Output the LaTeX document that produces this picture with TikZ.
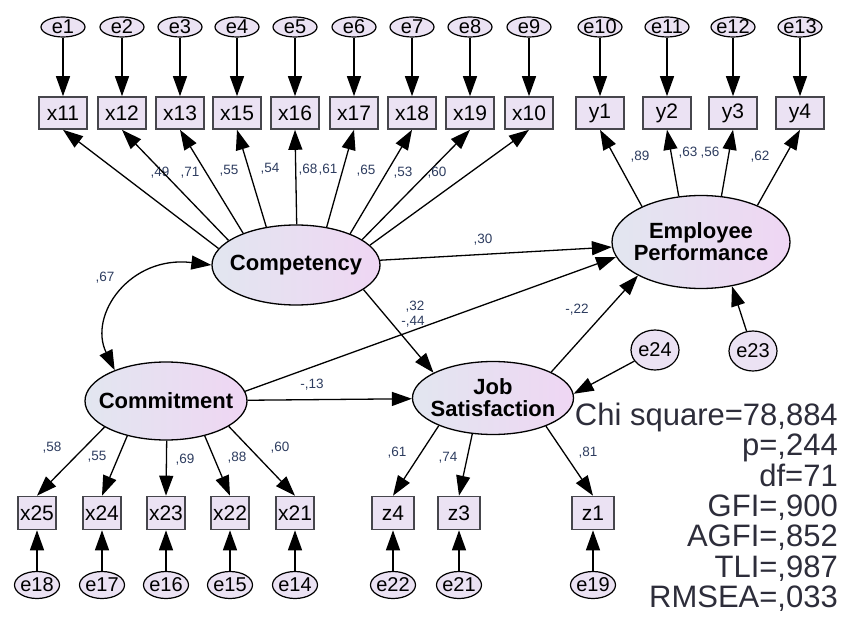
\documentclass[tikz,border=0pt]{standalone}
\usepackage{fontspec}
\setmainfont{Liberation Sans}
\usepackage{tikz}
\usetikzlibrary{arrows.meta}
\usetikzlibrary{shapes.geometric}
\definecolor{latleft}{RGB}{226,230,240}
\definecolor{latright}{RGB}{239,214,243}
\definecolor{obsfill}{RGB}{235,226,243}
\definecolor{obsline}{RGB}{70,70,76}
\definecolor{numblue}{RGB}{45,60,95}
\definecolor{stattext}{RGB}{45,45,58}
\tikzstyle{latent} = [draw, ellipse, line width=1.3pt, left color=latleft, right color=latright, inner xsep=-25pt, inner ysep=-8pt, align=center, font=\fontsize{22}{22}\selectfont\bfseries]
\tikzstyle{obs} = [draw=obsline, rectangle, line width=1.6pt, fill=obsfill, minimum width=48pt, minimum height=32pt, inner sep=0pt, font=\fontsize{21}{21}\selectfont]
\tikzstyle{obs low} = [obs, minimum width=38pt, minimum height=33pt]
\tikzstyle{obs z} = [obs, minimum width=42pt, minimum height=33pt]
\tikzstyle{err} = [draw, ellipse, line width=1.2pt, fill=obsfill, minimum width=44pt, minimum height=20pt, inner xsep=-3pt, inner ysep=-1pt, font=\fontsize{20}{20}\selectfont]
\tikzstyle{err low} = [err, minimum width=45pt, minimum height=27pt]
\tikzstyle{err side} = [err, minimum width=48pt, minimum height=40pt]
\tikzstyle{load} = [-{Triangle[length=20pt,width=14pt]}, line width=1.3pt]
\tikzstyle{cov} = [{Triangle[length=20pt,width=14pt]}-{Triangle[length=20pt,width=14pt]}, line width=1.3pt]
\tikzstyle{num} = [font=\fontsize{13.5}{13.5}\selectfont, text=numblue, inner sep=0pt]

\begin{document}
\begin{tikzpicture}[x=1pt,y=-1pt]
	\useasboundingbox (0,0) rectangle (842,617);

	\node (e1) at(63,27) [err] {e1};
	\node (e2) at(122,27) [err] {e2};
	\node (e3) at(180,27) [err] {e3};
	\node (e4) at(237,27) [err] {e4};
	\node (e5) at(295,27) [err] {e5};
	\node (e6) at(354,27) [err] {e6};
	\node (e7) at(412,27) [err] {e7};
	\node (e8) at(470,27) [err] {e8};
	\node (e9) at(529,27) [err] {e9};
	\node (e10) at(600,27) [err] {e10};
	\node (e11) at(667,27) [err] {e11};
	\node (e12) at(733,27) [err] {e12};
	\node (e13) at(800,27) [err] {e13};

	\node (x11) at(63,113) [obs] {x11};
	\node (x12) at(122,113) [obs] {x12};
	\node (x13) at(180,113) [obs] {x13};
	\node (x15) at(237,113) [obs] {x15};
	\node (x16) at(295,113) [obs] {x16};
	\node (x17) at(354,113) [obs] {x17};
	\node (x18) at(412,113) [obs] {x18};
	\node (x19) at(470,113) [obs] {x19};
	\node (x10) at(529,113) [obs] {x10};
	\node (y1) at(600,113) [obs] {y1};
	\node (y2) at(667,113) [obs] {y2};
	\node (y3) at(733,113) [obs] {y3};
	\node (y4) at(800,113) [obs] {y4};

	\node (comp) at(296,265) [latent, minimum width=168pt, minimum height=80pt] {Competency};
	\node (ep) at(701,242) [latent, minimum width=178pt, minimum height=93pt] {Employee\\Performance};
	\node (comm) at(166,401) [latent, minimum width=162pt, minimum height=78pt] {Commitment};
	\node (js) at(493,398) [latent, minimum width=161pt, minimum height=73pt] {Job\\Satisfaction};

	\node (e24) at(655,350) [err side] {e24};
	\node (e23) at(753,351) [err side] {e23};

	\node (x25) at(37,513) [obs low] {x25};
	\node (x24) at(102,513) [obs low] {x24};
	\node (x23) at(166,513) [obs low] {x23};
	\node (x22) at(230,513) [obs low] {x22};
	\node (x21) at(295,513) [obs low] {x21};
	\node (z4) at(393,513) [obs z] {z4};
	\node (z3) at(459,513) [obs z] {z3};
	\node (z1) at(593,513) [obs z] {z1};

	\node (e18) at(37,585) [err low] {e18};
	\node (e17) at(102,585) [err low] {e17};
	\node (e16) at(166,585) [err low] {e16};
	\node (e15) at(230,585) [err low] {e15};
	\node (e14) at(295,585) [err low] {e14};
	\node (e22) at(393,585) [err low] {e22};
	\node (e21) at(459,585) [err low] {e21};
	\node (e19) at(593,585) [err low] {e19};

	\draw[load] (e1) -- (x11);
	\draw[load] (e2) -- (x12);
	\draw[load] (e3) -- (x13);
	\draw[load] (e4) -- (x15);
	\draw[load] (e5) -- (x16);
	\draw[load] (e6) -- (x17);
	\draw[load] (e7) -- (x18);
	\draw[load] (e8) -- (x19);
	\draw[load] (e9) -- (x10);
	\draw[load] (e10) -- (y1);
	\draw[load] (e11) -- (y2);
	\draw[load] (e12) -- (y3);
	\draw[load] (e13) -- (y4);

	\draw[load] (comp.168) -- (x11.south) node[num] (l1) at(160,173) {,49};
	\draw[load] (comp.160) -- (x12.south) node[num] (l2) at(190,173) {,71};
	\draw[load] (comp.149) -- (x13.south) node[num] (l3) at(229,171) {,55};
	\draw[load] (comp.128) -- (x15.south) node[num] (l4) at(270,169) {,54};
	\draw[load] (comp.89) -- (x16.south) node[num] (l5) at(308,170) {,68};
	\draw[load] (comp.51) -- (x17.south) node[num] (l6) at(328,170) {,61};
	\draw[load] (comp.30) -- (x18.south) node[num] (l7) at(366,171) {,65};
	\draw[load] (comp.21) -- (x19.south) node[num] (l8) at(403,173) {,53};
	\draw[load] (comp.15) -- (x10.south) node[num] (l9) at(437,173) {,60};

	\draw[load] (ep.149) -- (y1.south) node[num] (l10) at(640,157) {,89};
	\draw[load] (ep.116) -- (y2.south) node[num] (l11) at(688,153) {,63};
	\draw[load] (ep.66) -- (y3.south) node[num] (l12) at(710,153) {,56};
	\draw[load] (ep.33) -- (y4.south) node[num] (l13) at(760,157) {,62};

	\draw[cov] (comp.west) .. controls (130,255) and (88,315) .. (comm.149) node[num] (l14) at(105,278) {,67};

	\draw[load] (comp) -- (ep) node[num] (l15) at(483,240) {,30};
	\draw[load] (comm.7) -- (ep.190) node[num] (l16) at(415,307) {,32};
	\draw[load] (comp.340) -- (js.157) node[num] (l17) at(413,322) {-,44};
	\draw[load] (comm) -- (js) node[num] (l18) at(312,385) {-,13};
	\draw[load] (js.24) -- (ep.208) node[num] (l19) at(577,310) {-,22};
	\draw[load] (e23) -- (ep.305);
	\draw[load] (e24) -- (js.3);

	\draw[load] (comm.203) -- (x25.north) node[num] (l20) at(52,448) {,58};
	\draw[load] (comm.222) -- (x24.north) node[num] (l21) at(97,457) {,55};
	\draw[load] (comm.271) -- (x23.north) node[num] (l22) at(185,460) {,69};
	\draw[load] (comm.318) -- (x22.north) node[num] (l23) at(237,458) {,88};
	\draw[load] (comm.338) -- (x21.north) node[num] (l24) at(280,448) {,60};

	\draw[load] (js.207) -- (z4.north) node[num] (l25) at(397,453) {,61};
	\draw[load] (js.240) -- (z3.north) node[num] (l26) at(448,458) {,74};
	\draw[load] (js.332) -- (z1.north) node[num] (l27) at(588,453) {,81};

	\draw[load] (e18) -- (x25);
	\draw[load] (e17) -- (x24);
	\draw[load] (e16) -- (x23);
	\draw[load] (e15) -- (x22);
	\draw[load] (e14) -- (x21);
	\draw[load] (e22) -- (z4);
	\draw[load] (e21) -- (z3);
	\draw[load] (e19) -- (z1);

	\node (fit) at(838,403) [anchor=north east, align=right, inner sep=0pt, text=stattext, font=\fontsize{31}{30.3}\selectfont] {Chi square=78,884\\p=,244\\df=71\\GFI=,900\\AGFI=,852\\TLI=,987\\RMSEA=,033};
\end{tikzpicture}
\end{document}
